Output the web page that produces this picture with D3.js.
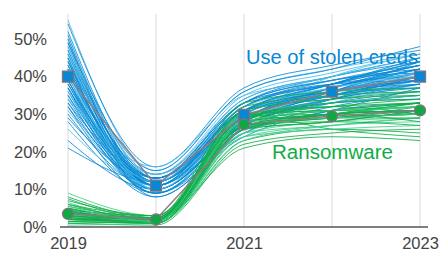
<!DOCTYPE html>
<html>
<head>
<meta charset="utf-8">
<script src="https://cdn.jsdelivr.net/npm/d3@7"></script>
<style>
  body { margin: 0; background: #fff; }
  text { font-family: "Liberation Sans", Arial, sans-serif; }
</style>
</head>
<body>
<div id="chart"></div>
<script>
// chart size
var svgWidth = 446;
var svgHeight = 253;

// data
var years = [2019, 2020, 2021, 2022, 2023];
var yTicks = [0, 10, 20, 30, 40, 50];
var xTicks = [2019, 2021, 2023];

var credsMedian = [40, 11, 29.8, 36, 40];
var ransomMedian = [3.5, 2, 27.3, 29.5, 31];

// individual runs behind the medians
var credsRuns = [
  [55, 15, 36, 42, 46], [54, 16, 37, 43, 47], [52, 13, 33, 40, 45],
  [51, 12, 31, 38, 44], [50, 14, 35, 41, 46], [49, 11, 30, 37, 42],
  [49, 15, 36, 42, 48], [48, 12, 32, 39, 43], [47, 10, 28, 36, 41],
  [46, 13, 34, 40, 44], [46, 11, 29, 35, 40], [45, 12, 31, 37, 42],
  [44, 10, 27, 34, 39], [44, 14, 33, 39, 41], [43, 11, 30, 36, 40],
  [42, 12, 29, 37, 43], [42, 9, 26, 33, 38], [41, 13, 32, 38, 40],
  [41, 11, 30, 36, 41], [40, 10, 28, 35, 39], [40, 12, 31, 37, 42],
  [39, 11, 29, 36, 40], [39, 9, 27, 34, 37], [38, 13, 33, 38, 43],
  [38, 10, 28, 35, 38], [37, 12, 30, 36, 39], [37, 11, 29, 37, 41],
  [36, 10, 27, 33, 36], [36, 14, 34, 40, 45], [35, 12, 31, 36, 38],
  [35, 9, 26, 34, 40], [34, 11, 29, 35, 37], [34, 16, 35, 39, 44],
  [33, 10, 28, 37, 42], [33, 13, 32, 38, 39], [32, 8, 25, 32, 35],
  [31, 11, 30, 36, 40], [30, 10, 27, 33, 34], [29, 12, 31, 35, 38],
  [28, 9, 24, 31, 33], [26, 11, 28, 34, 36], [23, 10, 26, 30, 32],
  [21, 12, 29, 33, 35], [45, 8, 25, 31, 37], [48, 14, 30, 40, 46],
  [50, 11, 32, 38, 43], [47, 13, 29, 36, 44], [43, 12, 33, 39, 42],
  [41, 10, 29, 35, 41], [39, 12, 30, 38, 44], [37, 9, 28, 34, 38],
  [44, 11, 31, 36, 39], [36, 12, 32, 37, 41], [32, 11, 28, 35, 39],
  [42, 13, 31, 38, 45], [38, 11, 27, 36, 42], [46, 10, 30, 37, 40]
];

var ransomRuns = [
  [9, 3, 30, 33, 35], [8, 2.5, 28, 31, 33], [7.5, 2, 32, 35, 36],
  [7, 3, 29, 32, 30], [6.5, 1.5, 26, 30, 32], [6, 2, 27, 29, 31],
  [6, 3, 33, 36, 37], [5.5, 2.5, 31, 34, 35], [5, 1, 25, 28, 29],
  [5, 2, 28, 30, 33], [5, 2, 30, 26, 24], [4.5, 3, 30, 31, 32],
  [4.5, 1.5, 27, 29, 30], [4, 2, 26, 28, 31], [4, 2.5, 29, 32, 34],
  [4, 1, 23, 26, 25], [3.5, 1, 24, 27, 28], [3.5, 2, 28, 30, 31],
  [3, 1.5, 27, 29, 32], [3, 2.5, 29, 31, 30], [3, 1, 25, 27, 29],
  [3, 2, 21, 24, 23], [2.5, 2, 28, 31, 33], [2.5, 1.5, 26, 29, 30],
  [2, 1, 24, 26, 27], [2, 2, 27, 30, 31], [2, 1.5, 29, 33, 34],
  [2, 2.5, 31, 34, 36], [1.5, 1, 23, 27, 29], [1.5, 2, 28, 29, 30],
  [1, 0.5, 22, 25, 26], [1, 1.5, 26, 28, 31], [0.5, 1, 25, 30, 32],
  [3.5, 2, 27, 28, 27], [4.5, 1.5, 29, 30, 28], [2.5, 1, 26, 30, 31],
  [3.5, 1.5, 28, 31, 32], [4, 2, 30, 32, 33], [2, 1.5, 27, 29, 29],
  [3, 2, 26, 30, 33], [5.5, 1.5, 28, 29, 30], [1.5, 1, 27, 30, 31]
];

var svg = d3.select("#chart")
  .append("svg")
  .attr("width", svgWidth)
  .attr("height", svgHeight);

var x = d3.scaleLinear().domain([2019, 2023]).range([68, 420]);
var y = d3.scaleLinear().domain([0, 50]).range([227, 39]);

// vertical grid lines
svg.append("g")
  .selectAll("line")
  .data(years)
  .enter()
  .append("line")
  .attr("x1", d => x(d))
  .attr("x2", d => x(d))
  .attr("y1", 14)
  .attr("y2", y(0))
  .attr("stroke", "#dcdcdc")
  .attr("stroke-width", 1);

// y labels
svg.append("g")
  .attr("transform", "translate(47,0)")
  .call(d3.axisLeft(y).tickValues(yTicks).tickSize(0).tickPadding(0).tickFormat(d => d + "%"))
  .call(g => g.select(".domain").remove())
  .selectAll("text")
  .attr("font-size", 16.5)
  .attr("fill", "#444")
  .attr("font-family", "Liberation Sans, Arial, sans-serif");

// x axis
var xAxis = svg.append("g")
  .attr("transform", `translate(0,${y(0)})`)
  .call(d3.axisBottom(x).tickValues(xTicks).tickSize(0).tickPadding(10).tickFormat(d3.format("d")));
xAxis.select(".domain").remove();
xAxis.selectAll("text")
  .attr("font-size", 16.5)
  .attr("fill", "#444")
  .attr("font-family", "Liberation Sans, Arial, sans-serif");
svg.append("line")
  .attr("x1", 60).attr("x2", 428)
  .attr("y1", y(0)).attr("y2", y(0))
  .attr("stroke", "#555").attr("stroke-width", 1.5);

var curvy = d3.line()
  .x((d, i) => x(years[i]))
  .y(d => y(d))
  .curve(d3.curveMonotoneX);

var straight = d3.line()
  .x((d, i) => x(years[i]))
  .y(d => y(d));

// spaghetti lines
svg.append("g")
  .selectAll("path")
  .data(credsRuns)
  .enter()
  .append("path")
  .attr("d", curvy)
  .attr("fill", "none")
  .attr("stroke", (d, i) => i % 4 === 0 ? "#4cbce8" : "#0888d4")
  .attr("stroke-width", 1)
  .attr("opacity", 0.85);

svg.append("g")
  .selectAll("path")
  .data(ransomRuns)
  .enter()
  .append("path")
  .attr("d", curvy)
  .attr("fill", "none")
  .attr("stroke", (d, i) => i % 4 === 0 ? "#42cc8c" : "#10ad48")
  .attr("stroke-width", 1)
  .attr("opacity", 0.85);

// median lines
svg.append("path")
  .attr("d", straight(credsMedian))
  .attr("fill", "none")
  .attr("stroke", "#8a7c86")
  .attr("stroke-width", 1.5);

svg.append("path")
  .attr("d", straight(ransomMedian))
  .attr("fill", "none")
  .attr("stroke", "#8a7c86")
  .attr("stroke-width", 1.5);

// markers
svg.append("g")
  .selectAll("rect")
  .data(credsMedian)
  .enter()
  .append("rect")
  .attr("x", (d, i) => x(years[i]) - 5.5)
  .attr("y", d => y(d) - 5.5)
  .attr("width", 11)
  .attr("height", 11)
  .attr("fill", "#0888d4")
  .attr("stroke", "#7d7480")
  .attr("stroke-width", 1.3);

svg.append("g")
  .selectAll("circle")
  .data(ransomMedian)
  .enter()
  .append("circle")
  .attr("cx", (d, i) => x(years[i]))
  .attr("cy", d => y(d))
  .attr("r", 5.5)
  .attr("fill", "#10a844")
  .attr("stroke", "#7d7480")
  .attr("stroke-width", 1.3);

// series labels
svg.append("text")
  .attr("x", 246)
  .attr("y", 64)
  .attr("font-size", 20)
  .attr("textLength", 172)
  .attr("lengthAdjust", "spacingAndGlyphs")
  .attr("fill", "#0888d4")
  .text("Use of stolen creds");

svg.append("text")
  .attr("x", 272)
  .attr("y", 159)
  .attr("font-size", 20)
  .attr("textLength", 121)
  .attr("lengthAdjust", "spacingAndGlyphs")
  .attr("fill", "#10ad48")
  .text("Ransomware");
</script>
</body>
</html>
